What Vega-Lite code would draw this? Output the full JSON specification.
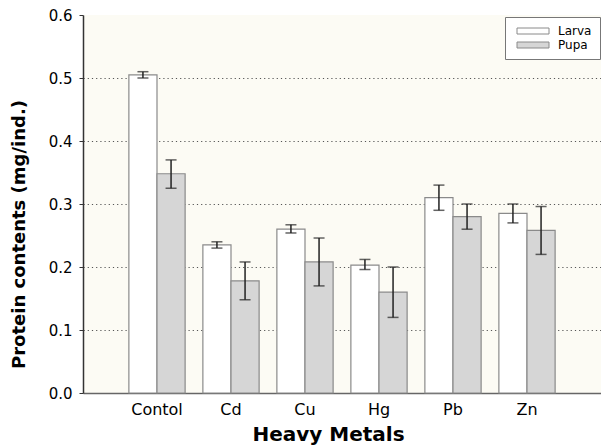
{
  "$schema": "https://vega.github.io/schema/vega-lite/v6.json",
  "width": 518,
  "height": 378,
  "autosize": {"type": "none"},
  "padding": {"left": 83, "top": 15, "right": 0, "bottom": 53},
  "background": "white",
  "config": {
    "font": "DejaVu Sans",
    "view": {"fill": "#fcfbf4", "stroke": null}
  },
  "data": {
    "values": [
      {"metal": "Contol", "stage": "Larva", "mean": 0.505, "lo": 0.500, "hi": 0.510},
      {"metal": "Contol", "stage": "Pupa", "mean": 0.348, "lo": 0.325, "hi": 0.370},
      {"metal": "Cd", "stage": "Larva", "mean": 0.235, "lo": 0.230, "hi": 0.240},
      {"metal": "Cd", "stage": "Pupa", "mean": 0.178, "lo": 0.148, "hi": 0.208},
      {"metal": "Cu", "stage": "Larva", "mean": 0.260, "lo": 0.254, "hi": 0.267},
      {"metal": "Cu", "stage": "Pupa", "mean": 0.208, "lo": 0.170, "hi": 0.246},
      {"metal": "Hg", "stage": "Larva", "mean": 0.203, "lo": 0.196, "hi": 0.212},
      {"metal": "Hg", "stage": "Pupa", "mean": 0.160, "lo": 0.120, "hi": 0.200},
      {"metal": "Pb", "stage": "Larva", "mean": 0.310, "lo": 0.290, "hi": 0.330},
      {"metal": "Pb", "stage": "Pupa", "mean": 0.280, "lo": 0.260, "hi": 0.300},
      {"metal": "Zn", "stage": "Larva", "mean": 0.285, "lo": 0.270, "hi": 0.300},
      {"metal": "Zn", "stage": "Pupa", "mean": 0.258, "lo": 0.220, "hi": 0.296}
    ]
  },
  "encoding": {
    "x": {
      "field": "metal",
      "type": "nominal",
      "sort": ["Contol", "Cd", "Cu", "Hg", "Pb", "Zn"],
      "scale": {"paddingInner": 0.24, "paddingOuter": 0.62},
      "axis": {
        "title": "Heavy Metals",
        "titleFont": "DejaVu Sans",
        "titleFontWeight": "bold",
        "titleFontSize": 20,
        "titleColor": "black",
        "titleX": 245,
        "titleY": 47,
        "titleBaseline": "alphabetic",
        "labelFontSize": 16,
        "labelColor": "black",
        "labelAngle": 0,
        "labelPadding": 8,
        "ticks": false,
        "domainColor": "#666",
        "domainWidth": 1.5,
        "grid": false
      }
    },
    "xOffset": {"field": "stage", "type": "nominal", "sort": ["Larva", "Pupa"], "scale": {"paddingInner": 0, "paddingOuter": 0}}
  },
  "layer": [
    {
      "mark": {"type": "bar", "stroke": "#8a8a8a", "strokeWidth": 1.2},
      "encoding": {
        "y": {
          "field": "mean",
          "type": "quantitative",
          "scale": {"domain": [0, 0.6], "nice": false},
          "axis": {
            "title": "Protein contents (mg/ind.)",
            "titleFont": "DejaVu Sans",
            "titleFontWeight": "bold",
            "titleFontSize": 18,
            "titleColor": "black",
            "titleAlign": "center",
            "titleX": -55,
            "titleY": 219,
            "values": [0, 0.1, 0.2, 0.3, 0.4, 0.5, 0.6],
            "format": ".1f",
            "labelFontSize": 15,
            "labelColor": "black",
            "labelPadding": 7,
            "tickSize": 4,
            "tickColor": "#333",
            "domainColor": "#333",
            "domainWidth": 1.5,
            "grid": true,
            "gridColor": "#555",
            "gridDash": [1.2, 3],
            "gridWidth": 1,
            "gridOpacity": {"condition": {"test": "datum.value > 0.55 || datum.value < 0.05", "value": 0}, "value": 1}
          }
        },
        "fill": {
          "field": "stage",
          "type": "nominal",
          "scale": {"domain": ["Larva", "Pupa"], "range": ["#ffffff", "#d6d6d6"]},
          "legend": {
            "title": null,
            "orient": "none",
            "legendX": 422,
            "legendY": 2,
            "fillColor": "white",
            "strokeColor": "#777",
            "padding": 8,
            "symbolType": "M-3.2,-0.6L3.2,-0.6L3.2,0.6L-3.2,0.6Z",
            "symbolSize": 100,
            "symbolOffset": 14,
            "symbolStrokeColor": "#8a8a8a",
            "symbolStrokeWidth": 1,
            "labelFontSize": 12,
            "labelColor": "black",
            "labelOffset": 19,
            "rowPadding": 2
          }
        }
      }
    },
    {
      "mark": {"type": "rule", "color": "#222", "strokeWidth": 1.5},
      "encoding": {
        "y": {"field": "lo", "type": "quantitative"},
        "y2": {"field": "hi"}
      }
    },
    {
      "mark": {"type": "tick", "color": "#222", "size": 11, "thickness": 1.5},
      "encoding": {"y": {"field": "lo", "type": "quantitative"}}
    },
    {
      "mark": {"type": "tick", "color": "#222", "size": 11, "thickness": 1.5},
      "encoding": {"y": {"field": "hi", "type": "quantitative"}}
    }
  ]
}
